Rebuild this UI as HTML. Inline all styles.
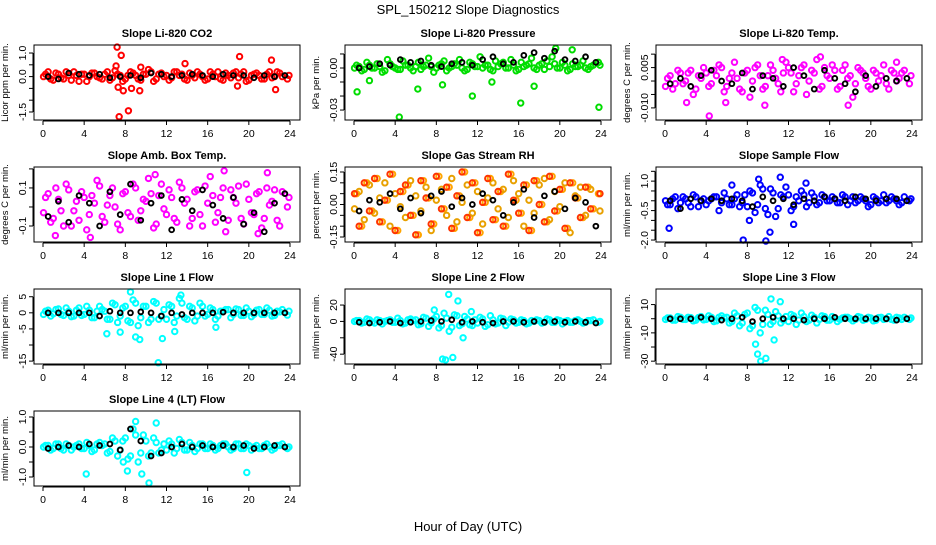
<!DOCTYPE html>
<html><head><meta charset="utf-8"><style>
body{margin:0;background:#fff}
svg text{font-family:"Liberation Sans",sans-serif}
</style></head><body>
<svg id="c" width="936" height="540">
<text x="468" y="14" text-anchor="middle" font-size="13">SPL_150212  Slope Diagnostics</text>
<text x="468" y="531" text-anchor="middle" font-size="13">Hour of Day (UTC)</text>
</svg>
<script>
const hours48=[0.25,0.75,1.25,1.75,2.25,2.75,3.25,3.75,4.25,4.75,5.25,5.75,6.25,6.75,7.25,7.75,8.25,8.75,9.25,9.75,10.25,10.75,11.25,11.75,12.25,12.75,13.25,13.75,14.25,14.75,15.25,15.75,16.25,16.75,17.25,17.75,18.25,18.75,19.25,19.75,20.25,20.75,21.25,21.75,22.25,22.75,23.25,23.75];
const hours48b=[0.05,0.5,1.0,1.5,2.0,2.5,3.0,3.5,4.0,4.5,5.0,5.5,6.0,6.5,7.0,7.5,8.0,8.5,9.0,9.5,10.0,10.5,11.0,11.5,12.0,12.5,13.0,13.5,14.0,14.5,15.0,15.5,16.0,16.5,17.0,17.5,18.0,18.5,19.0,19.5,20.0,20.5,21.0,21.5,22.0,22.5,23.0,23.9];
const hours24=[0.5,1.5,2.5,3.5,4.5,5.5,6.5,7.5,8.5,9.5,10.5,11.5,12.5,13.5,14.5,15.5,16.5,17.5,18.5,19.5,20.5,21.5,22.5,23.5];
const xTicks=[0,4,8,12,16,20,24];
// CO2
const co2Vals=[0.1,-0.1,0.15,-0.05,0.2,-0.15,0.05,0.1,-0.2,0.15,0,-0.1,0.2,-0.05,0.1,-0.2,0.05,0.15,-0.1,0.1,0.3,-0.2,0.1,0,-0.15,0.2,0.05,-0.1,0.15,-0.05,0.1,-0.15,0.2,0,-0.1,0.15,-0.05,0.2,0.1,-0.2,0.05,0.15,-0.1,0.1,-0.05,0.2,0,-0.1];
const co2Vals2=[0,0.2,-0.15,0.1,-0.1,0.05,0.2,-0.2,0.1,0,0.15,-0.05,0.1,-0.15,0.25,0.05,-0.1,0.2,0.05,-0.15,0.1,0.2,-0.1,0.15,0.05,-0.05,0.2,0.1,-0.15,0.05,0.2,0,-0.1,0.1,0.2,-0.15,0.05,0.15,-0.05,0.2,-0.15,0.1,0.05,-0.1,0.2,0,0.15,0.05];
const co2Black=[0,-0.1,0.15,0.1,0.05,0.1,-0.05,0,0.05,-0.05,0.15,0.1,0,0.05,0.1,0.05,0,0.1,0.05,0.05,-0.05,0.05,0,0.05];
const co2OutX=[7.2,7.4,7.6,7.8,8.3,7.3,19.1,22.2,13.8,9.5,18.9,22.6,7.1,8.6,9.4];
const co2OutY=[1.25,-1.7,0.9,-0.6,-1.45,-0.45,0.85,0.7,0.55,0.4,-0.4,-0.55,0.45,-0.5,-0.6];
// Pressure
const presVals=[0.002,-0.002,0.004,0,0.003,-0.003,0.006,0.001,-0.001,0.005,0.002,-0.002,0.004,0.001,0.007,-0.003,0.002,0.005,0,0.003,0.006,-0.002,0.004,0.001,0.008,0.002,-0.001,0.005,0.003,0,0.006,-0.002,0.004,0.002,0.007,-0.001,0.003,0.005,0.008,0,0.004,-0.002,0.003,0.001,0.005,-0.001,0.002,0.004];
const presVals2=[0,0.001,-0.001,0.002,0,0.001,-0.002,0.003,0,-0.001,0.002,0,0.001,-0.001,0.002,0.001,0,0.003,-0.002,0.001,0.002,0,-0.001,0.003,0.001,0,0.002,-0.002,0.001,0.004,0,0.002,-0.001,0.001,0.003,0,0.002,-0.001,0.001,0.003,0,0.002,-0.001,0.001,0.002,0,0.001,0.002];
const presBlack=[0,0.001,0.003,0.002,0.006,0.004,0.005,0.002,0.001,0.003,0.004,0.002,0.006,0.008,0.003,0.004,0.009,0.011,0.007,0.012,0.006,0.005,0.008,0.004];
const presOutX=[0.3,1.5,4.4,6.2,8.6,11.5,16.2,17.5,19.6,21.2,23.8,13.4];
const presOutY=[-0.017,-0.009,-0.035,-0.015,-0.012,-0.02,-0.025,-0.013,0.014,0.013,-0.028,-0.01];
// Li-820 Temp
const tempVals=[0.001,-0.003,0.004,-0.001,0.003,-0.005,0.002,0.005,-0.002,0.004,0.006,-0.004,0.001,0.007,-0.003,0.003,-0.006,0.005,0.002,-0.002,0.006,0.001,-0.004,0.007,0.003,-0.001,0.005,-0.005,0.004,0.008,-0.002,0.002,0.006,-0.003,0.004,0.001,-0.006,0.005,0.003,-0.002,0.004,0,0.006,-0.003,0.003,0.001,0.004,-0.001];
const tempVals2=[-0.002,0.002,-0.001,0.003,0,0.004,-0.003,0.001,0.003,-0.001,0.002,0.005,-0.002,0.003,0.001,-0.004,0.004,0,0.006,-0.003,0.002,0.004,-0.001,0.003,0.005,-0.004,0.002,0.006,0,0.003,-0.003,0.005,0.001,0.004,-0.002,0.006,0.002,-0.001,0.004,0.001,-0.003,0.003,0.002,-0.001,0.004,0,0.003,0.002];
const tempBlack=[-0.001,0.001,-0.002,0.002,0.004,0,-0.001,0.003,-0.003,0.002,0.001,-0.002,0.005,0.002,-0.003,0.004,0.001,-0.001,-0.004,0.002,-0.002,0.001,0,0.001];
const tempOutX=[4.3,5.9,9.7,11.4,15.1,17.8,22.5,2.1];
const tempOutY=[-0.013,-0.008,-0.009,0.008,0.009,-0.009,0.007,-0.008];
// Amb box temp
const ambVals=[0.05,-0.08,0.1,-0.02,0.12,-0.1,0.03,0.08,-0.12,0.06,0.14,-0.05,0.01,0.1,-0.09,0.07,-0.03,0.12,-0.07,0.04,0.15,-0.11,0.06,-0.01,0.09,-0.06,0.13,0.02,-0.1,0.08,-0.04,0.11,0.16,-0.08,0.05,-0.13,0.09,0.02,-0.06,0.12,-0.03,0.07,-0.11,0.1,0.03,-0.07,0.08,0];
const ambVals2=[-0.03,0.07,-0.06,0.04,-0.1,0.09,-0.02,-0.07,0.05,-0.04,0.02,0.11,-0.08,0.06,0,-0.12,0.08,-0.05,0.1,-0.02,0.03,0.07,-0.09,0.12,-0.04,0.05,-0.08,0.1,0.04,-0.06,0.09,-0.1,0.02,0.06,-0.03,0.1,-0.07,0.05,0.11,-0.09,0.04,-0.04,0.08,-0.06,0.01,0.09,-0.1,0.05];
const ambBlack=[-0.05,0.03,-0.08,0.06,0.02,-0.1,0.08,-0.04,0.12,-0.07,0.02,0.06,-0.12,0.04,-0.02,0.09,0.01,-0.06,0.05,-0.09,-0.03,-0.13,0.02,0.07];
const ambOutX=[1.2,4.6,10.9,17.6,21.8,20.9];
const ambOutY=[-0.15,-0.16,0.17,0.19,0.18,-0.14];
// Gas stream RH
const rhVals=[0.05,-0.1,0.1,-0.03,0.12,-0.08,0.02,0.14,-0.12,0.06,0.09,-0.05,-0.14,0.11,0.03,-0.09,0.13,-0.02,0.08,-0.11,0.04,0.15,-0.06,0.1,-0.13,0.01,0.12,-0.07,0.06,-0.1,0.14,0.02,-0.04,0.09,-0.12,0.11,0,-0.08,0.13,-0.03,0.07,-0.11,0.1,0.03,-0.06,0.08,-0.02,0.05];
const rhVals2=[-0.02,0.06,-0.07,0.09,-0.04,0.03,0.1,-0.1,0.05,-0.01,-0.06,0.11,0.04,-0.03,0.08,-0.12,0.02,0.07,-0.05,0.12,-0.08,0.01,0.09,-0.04,0.06,-0.09,0.03,0.1,-0.02,0.07,-0.06,0.11,0.05,-0.1,0.02,-0.04,0.09,0.12,-0.07,0.06,-0.01,0.1,-0.13,0.04,0.08,-0.05,0.07,-0.03];
const rhBlack=[-0.03,0.02,0.01,0.05,-0.02,0.03,-0.04,0.04,0.06,-0.01,0.03,0,0.05,0.02,-0.05,0.01,0.07,-0.06,0.04,0.06,-0.02,0.03,0.01,-0.1];
// Sample flow
const sfVals=[-0.2,0.1,-0.4,0.2,-0.1,0.3,-0.3,0.1,0,0.2,-0.5,0.4,-0.2,0.1,-0.3,0.3,0.5,-0.6,0.8,-0.4,0.6,-0.8,0.3,0.7,-0.5,0.2,0.5,-0.3,0.4,-0.2,0.3,0,0.2,-0.1,0.3,-0.2,0.2,0,0.1,-0.3,0.2,-0.1,0.3,0,0.1,-0.2,0.2,0];
const sfVals2=[0,-0.2,0.2,-0.1,0.1,-0.3,0.2,0,-0.2,0.1,0.2,-0.1,0.1,-0.2,0.3,-0.1,-0.3,0.4,-0.2,0.6,-0.7,0.4,-0.4,0.2,0.3,-0.3,0,0.3,-0.1,0.2,-0.1,0.2,0,0.1,-0.1,0.2,0,-0.1,0.2,0,-0.2,0.1,0,-0.1,0.2,0,-0.1,0.1];
const sfBlack=[0,-0.4,0.1,0,0.1,0,0.1,0,-0.3,0.2,0,0.1,-0.2,0.1,0,0.2,0.1,0,0.2,0.1,0,0.1,0.1,0];
const sfOutX=[0.4,7.6,9.1,10.2,11.2,12.5,13.7,9.8,8.2,6.5];
const sfOutY=[-1.4,-2.0,1.1,-1.6,1.2,-1.2,0.9,-2.05,-1.0,0.8];
// Line 1
const l1Vals=[0.5,-1,1,-0.5,1.5,-1.2,0.8,-0.8,2,-1.5,0.5,1,-2,3,-3,1.5,-2.5,4,-4,2,-3,3.5,-2,1,2.5,-3,4.5,-1.5,2,-2.5,3,-1,1.5,-2,0.5,1,-1.5,1.2,-0.8,1.5,-1.2,0.8,-0.5,1.5,-1,0.5,1,-0.7];
const l1Vals2=[-0.5,0.8,-0.3,1.2,-0.8,0.5,-1,1.5,-0.5,0.8,-1.5,2,0.5,-2,2.5,-1,2,-3,3,-1.5,2,-2,3,-1,-2,2,-1,3,-2,1.5,-1,2,-0.5,1,-1,0.5,1,-0.5,1,-0.8,0.5,-0.5,1,-0.5,0.8,-0.8,0.3,0.5];
const l1Black=[0,0,0,0,0,-1,0.5,0,0,0.3,0,-1,0,-0.5,0,0,0,0.2,0,0,0,0,0,0];
const l1OutX=[8.5,11.2,9.0,9.4,11.6,6.2,7.5,13.4,16.8,12.8];
const l1OutY=[6.5,-15.5,-7.5,-8.3,-8,-6.5,-6,5.5,-4.5,-5.8];
// Line 2
const l2Vals=[1,-2,3,-1,2,-3,1,-1,4,-3,2,1,-4,5,-6,3,-8,10,-12,8,-5,6,-4,2,5,-6,7,-3,4,-5,3,-2,2,-3,1,2,-2,3,-1,2,-3,1,-1,2,-2,1,2,-1];
const l2Vals2=[0,1,-1,2,-2,1,0,2,-1,1,-2,3,2,-3,4,-2,6,-5,4,-7,7,-3,3,-5,-2,3,-4,2,-2,3,-1,2,-1,1,-2,0,1,-1,2,-1,1,0,-1,1,0,-1,1,0];
const l2Black=[-1,-2,-1,0,-2,-1,0,1,0,2,-1,0,-1,-2,0,0,-1,0,-1,0,-1,0,-1,-2];
const l2OutX=[8.6,9.2,9.6,10.1,8.9,7.8,10.6,11.4];
const l2OutY=[-46,33,-44,25,-47,14,-20,12];
// Line 3
const l3Vals=[0.5,-1,1.5,-0.5,1,-1.5,0.8,-0.8,2,-2,1,0.5,-3,4,-5,3,-7,8,-10,6,-4,5,-3,1.5,3,-4,4,-2,2.5,-3,2,-1,1.5,-2,0.5,1,-1.5,1.5,-1,1,-1.5,0.8,-0.5,1.5,-1,0.5,1,-0.5];
const l3Vals2=[-0.5,0.5,-1,1,-0.5,0.8,-1,1.5,-0.5,1,-1.5,2,1,-2,2,-3,4,-5,6,-4,3,-2,2,-1,-2,2,-1,1.5,-1,1,-0.5,1.5,-1,0.5,-0.5,1,0,-0.5,1,-0.5,0.5,-1,1,0,-0.5,1,-0.5,0.5];
const l3Black=[0,0,0,1,0,-1,0,1,-2,0,1,0,0,-1,0,0,1,0,0,0,0,0,-1,0];
const l3OutX=[9.3,9.8,10.3,9.0,10.6,8.8,11.2];
const l3OutY=[-30,-28,14,-25,-15,-18,12];
// Line 4
const l4Vals=[0.05,-0.1,0.1,-0.05,0.1,-0.1,0.05,-0.05,0.15,-0.15,0.1,0.05,-0.2,0.3,-0.3,0.2,-0.4,0.6,-0.5,0.4,-0.3,0.3,-0.2,0.1,0.2,-0.2,0.25,-0.1,0.15,-0.15,0.1,-0.05,0.1,-0.1,0.05,0.1,-0.1,0.1,-0.05,0.1,-0.1,0.05,-0.05,0.1,-0.1,0.05,0.1,-0.05];
const l4Vals2=[0,0.05,-0.05,0.1,-0.1,0.05,0,0.1,-0.05,0.05,-0.1,0.15,0.1,-0.15,0.2,-0.1,0.3,-0.3,0.4,-0.2,0.2,-0.2,0.15,-0.1,-0.1,0.1,-0.05,0.15,-0.1,0.05,-0.05,0.1,-0.05,0.05,-0.05,0.1,0,-0.05,0.1,-0.05,0.05,0,-0.05,0.05,0,-0.05,0.05,0];
const l4Black=[-0.05,0,0.05,0,0.1,0.05,0.1,-0.1,0.6,0.2,-0.3,-0.2,0,0.1,0,0.05,0,0.05,0,0.05,-0.05,0,0.05,0];
const l4OutX=[4.2,8.2,9.0,10.3,11.0,9.6,19.8,7.8];
const l4OutY=[-0.9,-0.8,0.85,-1.2,0.8,-0.9,-0.85,-0.5];

const panels=[
 {t:'Slope Li-820 CO2',yl:'Licor ppm per min.',c:0,r:0,lo:-1.84,hi:1.34,ticks:[1,0.5,0,-0.5,-1,-1.5],labs:['1.0','','0.0','','','-1.5'],layers:[[hours48,co2Vals,'#ff0000'],[hours48b,co2Vals2,'#ff0000'],[co2OutX,co2OutY,'#ff0000'],[hours24,co2Black,'#000']]},
 {t:'Slope Li-820 Pressure',yl:'kPa per min.',c:1,r:0,lo:-0.0371,hi:0.0164,ticks:[0.01,0,-0.01,-0.02,-0.03],labs:['','0.00','','','-0.03'],layers:[[hours48,presVals,'#00dd00'],[hours48b,presVals2,'#00dd00'],[presOutX,presOutY,'#00dd00'],[hours24,presBlack,'#000']]},
 {t:'Slope Li-820 Temp.',yl:'degrees C per min.',c:2,r:0,lo:-0.0145,hi:0.0134,ticks:[0.01,0.005,0,-0.005,-0.01],labs:['','0.005','','','-0.010'],layers:[[hours48,tempVals,'#ff00ff'],[hours48b,tempVals2,'#ff00ff'],[tempOutX,tempOutY,'#ff00ff'],[hours24,tempBlack,'#000']]},
 {t:'Slope Amb. Box Temp.',yl:'degrees C per min.',c:0,r:1,lo:-0.184,hi:0.21,ticks:[0.2,0.1,0,-0.1],labs:['','0.1','','-0.1'],layers:[[hours48,ambVals,'#ff00ff'],[hours48b,ambVals2,'#ff00ff'],[ambOutX,ambOutY,'#ff00ff'],[hours24,ambBlack,'#000']]},
 {t:'Slope Gas Stream RH',yl:'percent per min.',c:1,r:1,lo:-0.173,hi:0.173,ticks:[0.15,0.1,0.05,0,-0.05,-0.1,-0.15],labs:['0.15','','','0.00','','','-0.15'],layers:[[hours48,rhVals,'#ffa500'],[hours48b,rhVals2,'#e8a000'],[hours48b,rhVals,'#ff3300'],[hours24,rhBlack,'#000']]},
 {t:'Slope Sample Flow',yl:'ml/min per min.',c:2,r:1,lo:-2.1,hi:1.72,ticks:[1.5,1,0.5,0,-0.5,-1,-1.5,-2],labs:['','1.0','','','-0.5','','','-2.0'],layers:[[hours48,sfVals,'#0000ff'],[hours48b,sfVals2,'#0000ff'],[sfOutX,sfOutY,'#0000ff'],[hours24,sfBlack,'#000']]},
 {t:'Slope Line 1 Flow',yl:'ml/min per min.',c:0,r:2,lo:-15.9,hi:7.4,ticks:[5,0,-5,-10,-15],labs:['5','0','-5','','-15'],layers:[[hours48,l1Vals,'#00ffff'],[hours48b,l1Vals2,'#00ffff'],[l1OutX,l1OutY,'#00ffff'],[hours24,l1Black,'#000']]},
 {t:'Slope Line 2 Flow',yl:'ml/min per min.',c:1,r:2,lo:-52,hi:39.6,ticks:[20,0,-20,-40],labs:['20','0','','-40'],layers:[[hours48,l2Vals,'#00ffff'],[hours48b,l2Vals2,'#00ffff'],[l2OutX,l2OutY,'#00ffff'],[hours24,l2Black,'#000']]},
 {t:'Slope Line 3 Flow',yl:'ml/min per min.',c:2,r:2,lo:-32,hi:21,ticks:[10,0,-10,-20,-30],labs:['10','','-10','','-30'],layers:[[hours48,l3Vals,'#00ffff'],[hours48b,l3Vals2,'#00ffff'],[l3OutX,l3OutY,'#00ffff'],[hours24,l3Black,'#000']]},
 {t:'Slope Line 4 (LT) Flow',yl:'ml/min per min.',c:0,r:3,lo:-1.3,hi:1.2,ticks:[1,0.5,0,-0.5,-1],labs:['1.0','','0.0','','-1.0'],layers:[[hours48,l4Vals,'#00ffff'],[hours48b,l4Vals2,'#00ffff'],[l4OutX,l4OutY,'#00ffff'],[hours24,l4Black,'#000']]}
];
const NS='http://www.w3.org/2000/svg';
const svg=document.getElementById('c');
function mk(tag,at,parent){const e=document.createElementNS(NS,tag);for(const k in at)e.setAttribute(k,at[k]);(parent||svg).appendChild(e);return e;}
const colL=[34,345,656],rowT=[45,167,289,411],W=266,H=75;
panels.forEach((p,i)=>{
 const L=colL[p.c],T=rowT[p.r];
 const g=mk('g',{});
 
 
 const xs=h=>L+9+h/24*(W-19);
 const ys=v=>T+H-(v-p.lo)/(p.hi-p.lo)*H;
 const tt=mk('text',{x:L+W/2,y:T-8,'text-anchor':'middle','font-size':11,'font-weight':'bold'},g);tt.textContent=p.t;
 
 
 const yl=mk('text',{transform:`translate(${L-26},${T+H/2}) rotate(-90)`,'text-anchor':'middle','font-size':9.5},g);yl.textContent=p.yl;
 
 
 const mg=mk('g',{},g);
 
 
 p.layers.forEach(([X,Y,col])=>{
  X.forEach((h,j)=>{
   const v=Y[j];if(v===undefined)return;
   const cy=Math.max(T+1,Math.min(T+H-1,ys(v)));
   const pt=mk('circle',{cx:xs(h),cy:cy,r:col==='#000'?2.4:2.7,fill:'none',stroke:col,'stroke-width':col==='#000'?1.9:2.0},mg);
   
   
  });
 });
 const box=mk('rect',{x:L,y:T,width:W,height:H,fill:'none',stroke:'#000','stroke-width':1},g);
 
 
 mk('line',{x1:xs(0),x2:xs(24),y1:T+H+1,y2:T+H+1,stroke:'#000'},g);
 xTicks.forEach(t=>{
  mk('line',{x1:xs(t),x2:xs(t),y1:T+H+1,y2:T+H+5,stroke:'#000'},g);
  const tx=mk('text',{x:xs(t),y:T+H+17,'text-anchor':'middle','font-size':10.5},g);tx.textContent=t;
  
  
 });
 const ymin=Math.min(...p.ticks),ymax=Math.max(...p.ticks);
 mk('line',{x1:L-1,x2:L-1,y1:ys(ymax),y2:ys(ymin),stroke:'#000'},g);
 p.ticks.forEach((t,j)=>{
  mk('line',{x1:L-5,x2:L-1,y1:ys(t),y2:ys(t),stroke:'#000'},g);
  if(!p.labs[j])return;
  const ty=mk('text',{transform:`translate(${L-8},${ys(t)}) rotate(-90)`,'text-anchor':'middle','font-size':10.5},g);ty.textContent=p.labs[j];
  
  
 });
});
</script>
</body></html>
